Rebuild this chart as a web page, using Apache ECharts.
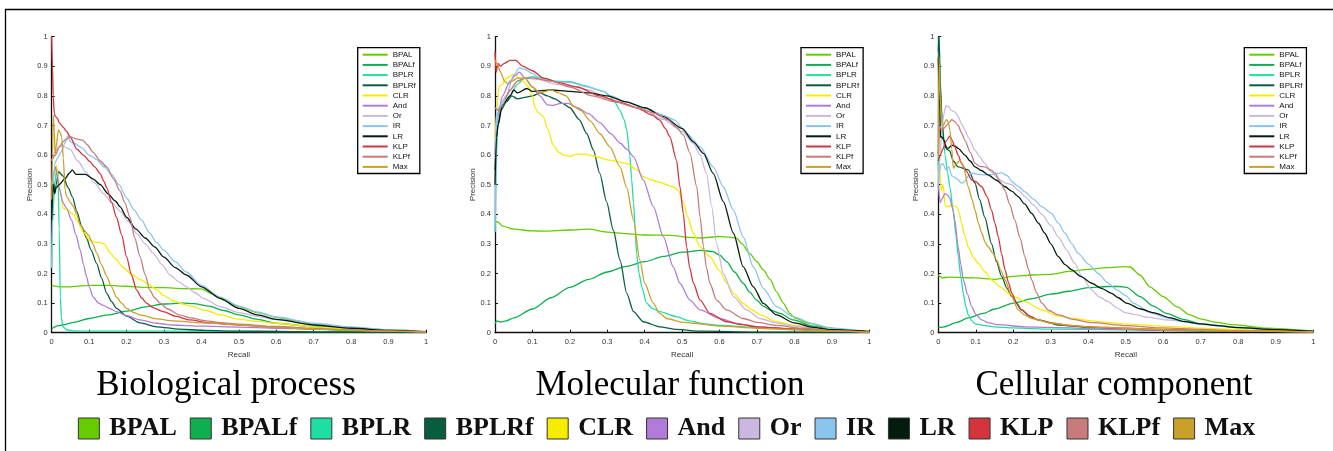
<!DOCTYPE html>
<html>
<head>
<meta charset="utf-8">
<script src="https://cdn.jsdelivr.net/npm/echarts@6/dist/echarts.min.js"></script>
<style>
html,body{margin:0;padding:0;background:#fff;}
#chart{width:1333px;height:451px;}
</style>
</head>
<body>
<div id="chart"></div>
<script>
// ---------- categories / labels ----------
const methods = ['BPAL','BPALf','BPLR','BPLRf','CLR','And','Or','IR','LR','KLP','KLPf','Max'];
const panelTitles = ['Biological process','Molecular function','Cellular component'];
const xAxisName = 'Recall';
const yAxisName = 'Precision';

// ---------- Biological process: [recall, precision] ----------
const bpBPAL = [[0,0.16],[0.005,0.158],[0.02,0.155],[0.05,0.155],[0.08,0.158],[0.1,0.16],[0.15,0.16],[0.2,0.157],[0.25,0.153],[0.3,0.152],[0.35,0.149],[0.4,0.148],[0.43,0.13],[0.46,0.11],[0.5,0.088],[0.55,0.068],[0.6,0.052],[0.65,0.04],[0.7,0.03],[0.8,0.018],[0.9,0.01],[1,0.003]];
const bpBPALf = [[0,0.01],[0.005,0.018],[0.015,0.023],[0.03,0.026],[0.06,0.035],[0.1,0.048],[0.15,0.06],[0.2,0.073],[0.25,0.087],[0.3,0.097],[0.35,0.1],[0.38,0.098],[0.42,0.09],[0.46,0.075],[0.5,0.06],[0.55,0.045],[0.6,0.032],[0.7,0.02],[0.8,0.012],[0.9,0.007],[1,0.003]];
const bpBPLR = [[0,0.22],[0.003,0.4],[0.008,0.5],[0.013,0.55],[0.017,0.52],[0.02,0.35],[0.023,0.12],[0.026,0.05],[0.03,0.02],[0.04,0.01],[0.06,0.006],[0.1,0.005],[0.3,0.005],[0.6,0.004],[1,0.003]];
const bpBPLRf = [[0,0.38],[0.004,0.52],[0.008,0.47],[0.012,0.5],[0.018,0.544],[0.03,0.53],[0.044,0.49],[0.055,0.46],[0.067,0.41],[0.08,0.36],[0.093,0.32],[0.105,0.28],[0.12,0.234],[0.133,0.185],[0.147,0.133],[0.16,0.105],[0.173,0.082],[0.2,0.056],[0.236,0.033],[0.28,0.02],[0.34,0.012],[0.41,0.008],[0.5,0.005],[0.7,0.003],[1,0.002]];
const bpCLR = [[0,0.5],[0.006,0.53],[0.013,0.565],[0.018,0.52],[0.025,0.46],[0.031,0.42],[0.04,0.415],[0.058,0.4],[0.07,0.375],[0.084,0.34],[0.102,0.313],[0.115,0.305],[0.129,0.305],[0.14,0.3],[0.156,0.27],[0.17,0.25],[0.19,0.222],[0.21,0.2],[0.236,0.18],[0.26,0.162],[0.28,0.145],[0.3,0.125],[0.324,0.108],[0.35,0.097],[0.37,0.09],[0.413,0.075],[0.45,0.06],[0.5,0.046],[0.55,0.038],[0.6,0.032],[0.7,0.02],[0.8,0.012],[0.9,0.007],[1,0.003]];
const bpAnd = [[0,0.5],[0.005,0.54],[0.01,0.56],[0.015,0.53],[0.02,0.49],[0.03,0.44],[0.04,0.42],[0.053,0.38],[0.065,0.33],[0.076,0.28],[0.085,0.23],[0.093,0.19],[0.1,0.155],[0.111,0.12],[0.125,0.1],[0.138,0.092],[0.155,0.082],[0.173,0.071],[0.2,0.058],[0.236,0.043],[0.28,0.032],[0.324,0.026],[0.4,0.022],[0.5,0.019],[0.6,0.015],[0.7,0.012],[0.8,0.009],[0.9,0.006],[1,0.004]];
const bpOr = [[0,0.58],[0.008,0.61],[0.02,0.63],[0.03,0.63],[0.049,0.62],[0.07,0.58],[0.093,0.54],[0.115,0.505],[0.138,0.47],[0.16,0.44],[0.183,0.41],[0.205,0.375],[0.227,0.335],[0.25,0.3],[0.27,0.27],[0.295,0.23],[0.316,0.195],[0.34,0.172],[0.36,0.155],[0.383,0.135],[0.405,0.116],[0.45,0.088],[0.5,0.068],[0.55,0.055],[0.6,0.044],[0.7,0.028],[0.8,0.016],[0.9,0.008],[1,0.003]];
const bpIR = [[0,0.22],[0.004,0.5],[0.008,0.57],[0.015,0.59],[0.025,0.61],[0.035,0.64],[0.043,0.665],[0.05,0.645],[0.06,0.64],[0.08,0.625],[0.1,0.6],[0.12,0.585],[0.14,0.56],[0.16,0.535],[0.18,0.5],[0.2,0.455],[0.22,0.415],[0.24,0.38],[0.26,0.34],[0.28,0.305],[0.3,0.278],[0.33,0.24],[0.36,0.205],[0.4,0.16],[0.45,0.12],[0.5,0.09],[0.55,0.07],[0.6,0.053],[0.7,0.032],[0.8,0.019],[0.9,0.01],[1,0.003]];
const bpLR = [[0,0.38],[0.004,0.5],[0.008,0.47],[0.012,0.49],[0.02,0.5],[0.035,0.52],[0.048,0.54],[0.055,0.55],[0.065,0.535],[0.08,0.535],[0.09,0.535],[0.11,0.52],[0.13,0.5],[0.15,0.47],[0.17,0.445],[0.183,0.425],[0.2,0.39],[0.225,0.35],[0.25,0.32],[0.275,0.29],[0.3,0.255],[0.33,0.22],[0.36,0.195],[0.4,0.155],[0.45,0.116],[0.5,0.082],[0.55,0.06],[0.6,0.045],[0.7,0.026],[0.8,0.015],[0.9,0.008],[1,0.003]];
const bpKLP = [[0,1.0],[0.002,0.9],[0.004,0.8],[0.007,0.74],[0.01,0.73],[0.015,0.725],[0.02,0.71],[0.03,0.695],[0.04,0.68],[0.05,0.66],[0.067,0.62],[0.085,0.6],[0.102,0.578],[0.115,0.56],[0.129,0.538],[0.14,0.51],[0.147,0.49],[0.16,0.44],[0.173,0.39],[0.187,0.33],[0.2,0.257],[0.213,0.195],[0.227,0.144],[0.24,0.118],[0.253,0.1],[0.27,0.085],[0.298,0.071],[0.33,0.056],[0.369,0.043],[0.42,0.033],[0.5,0.026],[0.6,0.019],[0.7,0.013],[0.8,0.008],[0.9,0.005],[1,0.003]];
const bpKLPf = [[0,0.58],[0.01,0.6],[0.02,0.625],[0.03,0.645],[0.04,0.655],[0.049,0.662],[0.065,0.655],[0.084,0.65],[0.095,0.635],[0.11,0.61],[0.13,0.58],[0.147,0.56],[0.165,0.52],[0.182,0.48],[0.195,0.44],[0.209,0.39],[0.222,0.32],[0.236,0.257],[0.25,0.195],[0.262,0.144],[0.275,0.118],[0.289,0.1],[0.31,0.08],[0.342,0.06],[0.37,0.05],[0.413,0.04],[0.45,0.034],[0.5,0.029],[0.6,0.021],[0.7,0.014],[0.8,0.009],[0.9,0.005],[1,0.003]];
const bpMax = [[0,0.45],[0.002,0.6],[0.004,0.735],[0.007,0.68],[0.009,0.6],[0.012,0.63],[0.018,0.685],[0.023,0.675],[0.027,0.66],[0.031,0.59],[0.036,0.48],[0.04,0.46],[0.05,0.44],[0.058,0.426],[0.067,0.4],[0.076,0.364],[0.088,0.345],[0.098,0.33],[0.11,0.3],[0.12,0.27],[0.133,0.23],[0.147,0.19],[0.16,0.155],[0.173,0.12],[0.187,0.1],[0.2,0.082],[0.22,0.068],[0.236,0.06],[0.28,0.047],[0.324,0.04],[0.4,0.033],[0.5,0.026],[0.6,0.018],[0.7,0.012],[0.8,0.008],[0.9,0.005],[1,0.002]];

// ---------- Molecular function ----------
const mfBPAL = [[0,0.37],[0.005,0.375],[0.01,0.372],[0.02,0.36],[0.05,0.35],[0.1,0.344],[0.13,0.343],[0.2,0.347],[0.25,0.35],[0.3,0.34],[0.35,0.335],[0.4,0.33],[0.47,0.329],[0.52,0.322],[0.55,0.32],[0.6,0.325],[0.63,0.322],[0.646,0.319],[0.66,0.3],[0.68,0.268],[0.7,0.24],[0.717,0.212],[0.735,0.18],[0.752,0.139],[0.77,0.1],[0.788,0.065],[0.8,0.05],[0.84,0.032],[0.886,0.018],[0.93,0.009],[1,0.003]];
const mfBPALf = [[0,0.03],[0.005,0.04],[0.015,0.036],[0.03,0.04],[0.05,0.05],[0.1,0.08],[0.15,0.118],[0.2,0.153],[0.25,0.18],[0.3,0.205],[0.35,0.224],[0.4,0.24],[0.45,0.258],[0.5,0.272],[0.55,0.278],[0.583,0.274],[0.6,0.262],[0.619,0.24],[0.64,0.205],[0.663,0.167],[0.68,0.138],[0.699,0.11],[0.717,0.09],[0.735,0.077],[0.761,0.065],[0.797,0.043],[0.85,0.022],[0.9,0.011],[1,0.003]];
const mfBPLR = [[0,0.34],[0.004,0.6],[0.008,0.73],[0.012,0.75],[0.02,0.76],[0.03,0.78],[0.04,0.8],[0.06,0.84],[0.08,0.86],[0.1,0.865],[0.13,0.86],[0.16,0.85],[0.2,0.848],[0.24,0.835],[0.27,0.822],[0.29,0.815],[0.307,0.8],[0.32,0.78],[0.334,0.75],[0.345,0.72],[0.352,0.685],[0.36,0.6],[0.365,0.52],[0.37,0.44],[0.375,0.34],[0.378,0.27],[0.385,0.2],[0.392,0.155],[0.405,0.1],[0.42,0.082],[0.44,0.071],[0.485,0.054],[0.52,0.04],[0.56,0.03],[0.6,0.025],[0.7,0.018],[0.8,0.012],[0.9,0.006],[1,0.002]];
const mfBPLRf = [[0,0.55],[0.004,0.66],[0.008,0.7],[0.015,0.75],[0.03,0.78],[0.045,0.8],[0.06,0.79],[0.08,0.795],[0.1,0.8],[0.12,0.81],[0.14,0.8],[0.16,0.79],[0.18,0.775],[0.2,0.76],[0.225,0.72],[0.245,0.673],[0.263,0.617],[0.28,0.538],[0.298,0.443],[0.316,0.347],[0.334,0.245],[0.352,0.133],[0.37,0.071],[0.396,0.037],[0.44,0.02],[0.485,0.011],[0.55,0.005],[0.7,0.002],[1,0.001]];
const mfCLR = [[0,0.65],[0.005,0.75],[0.01,0.83],[0.02,0.84],[0.03,0.86],[0.05,0.872],[0.065,0.86],[0.08,0.845],[0.09,0.83],[0.1,0.8],[0.107,0.76],[0.115,0.745],[0.129,0.73],[0.14,0.69],[0.156,0.634],[0.17,0.61],[0.185,0.6],[0.2,0.595],[0.218,0.603],[0.24,0.603],[0.263,0.597],[0.307,0.583],[0.352,0.572],[0.38,0.55],[0.396,0.527],[0.42,0.515],[0.44,0.508],[0.476,0.493],[0.49,0.48],[0.503,0.44],[0.515,0.39],[0.53,0.336],[0.548,0.29],[0.574,0.257],[0.6,0.21],[0.619,0.167],[0.64,0.13],[0.663,0.099],[0.69,0.075],[0.708,0.06],[0.752,0.037],[0.8,0.025],[0.85,0.016],[0.9,0.009],[1,0.003]];
const mfAnd = [[0,0.6],[0.004,0.7],[0.01,0.75],[0.02,0.8],[0.04,0.85],[0.055,0.87],[0.065,0.88],[0.08,0.86],[0.1,0.83],[0.12,0.8],[0.14,0.77],[0.155,0.768],[0.175,0.775],[0.195,0.775],[0.22,0.76],[0.25,0.74],[0.28,0.71],[0.31,0.672],[0.335,0.64],[0.352,0.62],[0.37,0.595],[0.396,0.516],[0.423,0.426],[0.45,0.324],[0.476,0.223],[0.494,0.167],[0.521,0.11],[0.548,0.077],[0.6,0.048],[0.65,0.03],[0.7,0.02],[0.8,0.012],[0.9,0.006],[1,0.002]];
const mfOr = [[0,0.4],[0.004,0.75],[0.015,0.77],[0.03,0.8],[0.06,0.85],[0.08,0.86],[0.12,0.855],[0.16,0.84],[0.2,0.835],[0.25,0.82],[0.3,0.792],[0.35,0.772],[0.4,0.75],[0.45,0.72],[0.5,0.68],[0.53,0.64],[0.548,0.6],[0.565,0.538],[0.579,0.426],[0.592,0.3],[0.61,0.2],[0.637,0.122],[0.672,0.077],[0.708,0.048],[0.75,0.033],[0.8,0.022],[0.85,0.015],[0.9,0.008],[1,0.003]];
const mfIR = [[0,0.34],[0.004,0.7],[0.01,0.76],[0.03,0.8],[0.05,0.87],[0.065,0.895],[0.08,0.89],[0.1,0.875],[0.12,0.86],[0.15,0.85],[0.2,0.845],[0.25,0.83],[0.29,0.815],[0.31,0.8],[0.35,0.78],[0.4,0.76],[0.45,0.735],[0.48,0.718],[0.512,0.673],[0.548,0.628],[0.583,0.56],[0.61,0.493],[0.637,0.414],[0.663,0.324],[0.69,0.223],[0.717,0.15],[0.752,0.088],[0.797,0.054],[0.85,0.03],[0.9,0.015],[1,0.003]];
const mfLR = [[0,0.5],[0.004,0.66],[0.008,0.7],[0.02,0.77],[0.04,0.8],[0.05,0.82],[0.06,0.81],[0.085,0.825],[0.1,0.815],[0.15,0.82],[0.2,0.815],[0.25,0.81],[0.3,0.8],[0.35,0.78],[0.4,0.76],[0.45,0.73],[0.5,0.69],[0.53,0.645],[0.557,0.606],[0.583,0.538],[0.61,0.443],[0.637,0.336],[0.663,0.223],[0.69,0.155],[0.717,0.099],[0.752,0.06],[0.8,0.033],[0.85,0.018],[0.9,0.01],[1,0.004]];
const mfKLP = [[0,0.95],[0.003,0.88],[0.008,0.91],[0.015,0.9],[0.025,0.91],[0.04,0.92],[0.055,0.92],[0.075,0.9],[0.1,0.885],[0.13,0.86],[0.17,0.845],[0.22,0.83],[0.28,0.8],[0.33,0.78],[0.38,0.76],[0.42,0.735],[0.44,0.718],[0.455,0.69],[0.467,0.662],[0.485,0.583],[0.494,0.493],[0.503,0.403],[0.512,0.29],[0.52,0.22],[0.53,0.167],[0.548,0.11],[0.574,0.065],[0.619,0.037],[0.66,0.027],[0.7,0.02],[0.8,0.012],[0.9,0.006],[1,0.002]];
const mfKLPf = [[0,0.76],[0.01,0.75],[0.02,0.77],[0.04,0.82],[0.06,0.85],[0.08,0.86],[0.1,0.86],[0.15,0.85],[0.2,0.83],[0.26,0.8],[0.32,0.78],[0.38,0.76],[0.43,0.74],[0.46,0.72],[0.485,0.695],[0.503,0.668],[0.521,0.606],[0.539,0.493],[0.548,0.39],[0.557,0.29],[0.565,0.22],[0.574,0.167],[0.592,0.11],[0.619,0.077],[0.663,0.048],[0.7,0.035],[0.75,0.025],[0.82,0.015],[0.9,0.007],[1,0.002]];
const mfMax = [[0,0.92],[0.005,0.91],[0.015,0.88],[0.025,0.85],[0.035,0.84],[0.045,0.85],[0.06,0.86],[0.08,0.86],[0.1,0.83],[0.12,0.81],[0.15,0.82],[0.17,0.81],[0.19,0.8],[0.21,0.765],[0.23,0.75],[0.255,0.715],[0.28,0.673],[0.307,0.628],[0.334,0.56],[0.352,0.49],[0.37,0.38],[0.387,0.245],[0.4,0.167],[0.423,0.099],[0.44,0.065],[0.459,0.048],[0.5,0.036],[0.53,0.032],[0.6,0.022],[0.7,0.015],[0.8,0.01],[0.9,0.005],[1,0.002]];

// ---------- Cellular component ----------
const ccBPAL = [[0,0.195],[0.005,0.19],[0.01,0.185],[0.03,0.188],[0.1,0.185],[0.15,0.18],[0.2,0.19],[0.25,0.195],[0.3,0.197],[0.35,0.207],[0.4,0.214],[0.45,0.22],[0.5,0.223],[0.511,0.222],[0.538,0.195],[0.564,0.155],[0.6,0.122],[0.636,0.088],[0.671,0.06],[0.698,0.047],[0.742,0.035],[0.787,0.027],[0.876,0.015],[1,0.005]];
const ccBPALf = [[0,0.02],[0.008,0.018],[0.015,0.02],[0.05,0.035],[0.08,0.05],[0.12,0.065],[0.15,0.08],[0.2,0.1],[0.25,0.115],[0.3,0.13],[0.35,0.14],[0.4,0.152],[0.45,0.156],[0.48,0.156],[0.502,0.153],[0.538,0.122],[0.573,0.09],[0.609,0.065],[0.653,0.045],[0.7,0.03],[0.8,0.018],[0.9,0.01],[1,0.004]];
const ccBPLR = [[0,0.55],[0.002,1.0],[0.006,0.8],[0.012,0.68],[0.018,0.6],[0.025,0.54],[0.031,0.49],[0.04,0.41],[0.047,0.33],[0.053,0.26],[0.06,0.19],[0.067,0.13],[0.073,0.09],[0.08,0.06],[0.09,0.04],[0.098,0.03],[0.124,0.024],[0.15,0.02],[0.2,0.016],[0.3,0.012],[0.5,0.01],[0.7,0.007],[1,0.004]];
const ccBPLRf = [[0,0.95],[0.002,1.0],[0.005,0.85],[0.01,0.72],[0.015,0.65],[0.022,0.62],[0.03,0.615],[0.04,0.58],[0.053,0.56],[0.08,0.55],[0.098,0.505],[0.11,0.45],[0.124,0.39],[0.142,0.3],[0.155,0.24],[0.169,0.19],[0.183,0.15],[0.196,0.122],[0.222,0.077],[0.245,0.055],[0.267,0.043],[0.32,0.026],[0.4,0.018],[0.5,0.012],[0.6,0.008],[0.8,0.005],[1,0.003]];
const ccCLR = [[0,0.5],[0.003,0.58],[0.006,0.5],[0.009,0.48],[0.013,0.5],[0.018,0.43],[0.022,0.425],[0.036,0.43],[0.049,0.425],[0.055,0.41],[0.062,0.37],[0.07,0.33],[0.08,0.29],[0.093,0.255],[0.107,0.234],[0.125,0.205],[0.142,0.178],[0.165,0.155],[0.187,0.133],[0.21,0.118],[0.231,0.105],[0.276,0.077],[0.32,0.056],[0.36,0.048],[0.409,0.04],[0.45,0.035],[0.5,0.029],[0.6,0.022],[0.7,0.015],[0.8,0.01],[0.9,0.006],[1,0.003]];
const ccAnd = [[0,0.5],[0.005,0.44],[0.009,0.45],[0.018,0.47],[0.025,0.465],[0.031,0.454],[0.038,0.42],[0.044,0.38],[0.053,0.29],[0.06,0.23],[0.067,0.178],[0.078,0.13],[0.089,0.088],[0.1,0.062],[0.116,0.043],[0.135,0.033],[0.16,0.027],[0.231,0.02],[0.3,0.018],[0.4,0.014],[0.5,0.011],[0.6,0.009],[0.8,0.006],[1,0.003]];
const ccOr = [[0,0.5],[0.005,0.6],[0.009,0.685],[0.015,0.74],[0.02,0.765],[0.026,0.765],[0.036,0.75],[0.045,0.745],[0.053,0.73],[0.062,0.705],[0.071,0.685],[0.08,0.66],[0.098,0.617],[0.11,0.595],[0.124,0.572],[0.14,0.545],[0.16,0.52],[0.18,0.505],[0.196,0.5],[0.215,0.48],[0.231,0.46],[0.255,0.43],[0.276,0.4],[0.3,0.362],[0.32,0.324],[0.342,0.28],[0.364,0.234],[0.385,0.185],[0.409,0.144],[0.43,0.12],[0.453,0.105],[0.475,0.085],[0.498,0.068],[0.52,0.062],[0.56,0.052],[0.609,0.043],[0.7,0.03],[0.8,0.018],[0.9,0.009],[1,0.003]];
const ccIR = [[0,0.5],[0.004,0.55],[0.008,0.57],[0.013,0.57],[0.02,0.55],[0.028,0.56],[0.036,0.53],[0.05,0.52],[0.062,0.505],[0.07,0.51],[0.08,0.53],[0.089,0.54],[0.105,0.535],[0.124,0.533],[0.145,0.535],[0.169,0.54],[0.185,0.53],[0.196,0.51],[0.213,0.495],[0.231,0.476],[0.255,0.45],[0.276,0.426],[0.302,0.403],[0.32,0.37],[0.338,0.336],[0.356,0.3],[0.373,0.268],[0.4,0.232],[0.427,0.2],[0.45,0.17],[0.476,0.145],[0.5,0.125],[0.52,0.1],[0.564,0.068],[0.609,0.05],[0.65,0.038],[0.7,0.028],[0.8,0.017],[0.9,0.009],[1,0.003]];
const ccLR = [[0,0.93],[0.003,0.8],[0.006,0.66],[0.009,0.662],[0.015,0.65],[0.022,0.625],[0.027,0.623],[0.036,0.634],[0.045,0.63],[0.053,0.623],[0.071,0.6],[0.085,0.58],[0.098,0.56],[0.115,0.548],[0.133,0.533],[0.155,0.515],[0.178,0.493],[0.196,0.478],[0.213,0.46],[0.23,0.435],[0.249,0.403],[0.267,0.37],[0.284,0.336],[0.3,0.3],[0.32,0.257],[0.338,0.23],[0.356,0.212],[0.38,0.19],[0.409,0.167],[0.435,0.15],[0.462,0.133],[0.48,0.118],[0.502,0.1],[0.54,0.08],[0.573,0.068],[0.62,0.05],[0.653,0.038],[0.7,0.03],[0.742,0.024],[0.8,0.017],[0.9,0.01],[1,0.004]];
const ccKLP = [[0,0.58],[0.005,0.6],[0.012,0.62],[0.022,0.65],[0.031,0.664],[0.037,0.65],[0.044,0.628],[0.053,0.6],[0.062,0.572],[0.075,0.545],[0.089,0.516],[0.1,0.51],[0.116,0.493],[0.13,0.46],[0.142,0.414],[0.151,0.37],[0.16,0.324],[0.169,0.265],[0.178,0.212],[0.187,0.17],[0.196,0.133],[0.209,0.1],[0.222,0.077],[0.245,0.055],[0.267,0.043],[0.3,0.033],[0.35,0.025],[0.4,0.02],[0.5,0.015],[0.6,0.011],[0.8,0.006],[1,0.003]];
const ccKLPf = [[0,0.6],[0.004,0.7],[0.009,0.685],[0.015,0.69],[0.022,0.7],[0.03,0.712],[0.036,0.72],[0.045,0.712],[0.053,0.7],[0.062,0.675],[0.071,0.65],[0.085,0.61],[0.098,0.572],[0.11,0.562],[0.124,0.56],[0.14,0.55],[0.151,0.54],[0.165,0.51],[0.178,0.48],[0.19,0.435],[0.204,0.38],[0.218,0.32],[0.231,0.257],[0.24,0.215],[0.249,0.178],[0.262,0.135],[0.276,0.1],[0.295,0.075],[0.32,0.06],[0.36,0.045],[0.409,0.034],[0.5,0.024],[0.6,0.016],[0.7,0.011],[0.8,0.007],[1,0.003]];
const ccMax = [[0,0.6],[0.002,0.93],[0.005,0.8],[0.009,0.72],[0.013,0.7],[0.022,0.72],[0.027,0.71],[0.031,0.685],[0.036,0.62],[0.04,0.555],[0.049,0.572],[0.058,0.583],[0.067,0.56],[0.08,0.493],[0.09,0.45],[0.098,0.414],[0.107,0.37],[0.116,0.336],[0.125,0.305],[0.133,0.29],[0.145,0.27],[0.156,0.245],[0.167,0.21],[0.178,0.178],[0.196,0.122],[0.213,0.077],[0.23,0.06],[0.249,0.048],[0.302,0.032],[0.35,0.025],[0.4,0.02],[0.5,0.015],[0.6,0.01],[0.8,0.006],[1,0.003]];

const panelData = [
  [bpBPAL,bpBPALf,bpBPLR,bpBPLRf,bpCLR,bpAnd,bpOr,bpIR,bpLR,bpKLP,bpKLPf,bpMax],
  [mfBPAL,mfBPALf,mfBPLR,mfBPLRf,mfCLR,mfAnd,mfOr,mfIR,mfLR,mfKLP,mfKLPf,mfMax],
  [ccBPAL,ccBPALf,ccBPLR,ccBPLRf,ccCLR,ccAnd,ccOr,ccIR,ccLR,ccKLP,ccKLPf,ccMax]
];

// ---------- styling ----------
const colors = ['#66cc00','#0fae4f','#1edfa3','#075e3f','#f6ec00','#b07cd8','#cbb8e0','#8cc4f0','#021c0e','#d3343d','#c77b7b','#c9a02a'];
const gridLefts = [51.7, 495, 938.3];
const gridWidths = [374.3, 374.3, 375];
const gridTop = 36.7, gridHeight = 296;
const legendLefts = [357.7, 801, 1244.3];
const titleCenters = [226, 670, 1114];

const chart = echarts.init(document.getElementById('chart'), null, {renderer:'canvas'});

const grids = [], xAxes = [], yAxes = [], series = [], legends = [], graphics = [];
const axisColor = '#111';
for (let p = 0; p < 3; p++) {
  grids.push({left: gridLefts[p], top: gridTop, width: gridWidths[p], height: gridHeight, containLabel:false});
  xAxes.push({
    type:'value', gridIndex:p, min:0, max:1, interval:0.1,
    axisLine:{show:true, onZero:false, lineStyle:{color:axisColor, width:1.3}},
    axisTick:{show:true, inside:true, length:3, lineStyle:{color:axisColor}},
    axisLabel:{fontSize:7.5, color:'#333', margin:5, fontFamily:'Liberation Sans'},
    splitLine:{show:false},
    name:xAxisName, nameLocation:'middle', nameGap:12,
    nameTextStyle:{fontSize:8, color:'#333', fontFamily:'Liberation Sans'}
  });
  yAxes.push({
    type:'value', gridIndex:p, min:0, max:1, interval:0.1,
    axisLine:{show:true, onZero:false, lineStyle:{color:axisColor, width:1.3}},
    axisTick:{show:true, inside:true, length:3, lineStyle:{color:axisColor}},
    axisLabel:{fontSize:7.5, color:'#333', margin:4, fontFamily:'Liberation Sans'},
    splitLine:{show:false},
    name:yAxisName, nameLocation:'middle', nameGap:17, nameRotate:90,
    nameTextStyle:{fontSize:8, color:'#333', fontFamily:'Liberation Sans'}
  });
  for (let s = 0; s < methods.length; s++) {
    series.push({
      type:'line', name:methods[s], xAxisIndex:p, yAxisIndex:p,
      data:panelData[p][s], symbol:'none', showSymbol:false,
      smooth:0.25, smoothMonotone:'x',
      color:colors[s],
      lineStyle:{width:1.3, color:colors[s]},
      itemStyle:{color:colors[s]},
      animation:false, z:2
    });
  }
  legends.push({
    data:methods, orient:'vertical', left:legendLefts[p], top:47.7,
    icon:'rect', itemWidth:25, itemHeight:2, itemGap:2.2,
    padding:[3,4,2.6,5], borderColor:'#000', borderWidth:1.3, backgroundColor:'#fff',
    itemStyle:{borderWidth:0},
    textStyle:{fontSize:8, color:'#111', fontFamily:'Liberation Sans'},
    selectedMode:false, z:10
  });
  graphics.push({
    type:'text', x:titleCenters[p], y:386, z:10,
    style:{text:panelTitles[p], fontSize:35, fontFamily:'Liberation Serif', fill:'#000', align:'center', verticalAlign:'middle'}
  });
}
legends.push({
  data:methods, orient:'horizontal', left:'center', top:415.5, padding:0,
  icon:'rect', itemWidth:21, itemHeight:21, itemGap:13,
  itemStyle:{borderColor:'#333', borderWidth:1},
  textStyle:{fontSize:26, fontWeight:'bold', color:'#111', fontFamily:'Liberation Serif', padding:[0,0,0,5]},
  selectedMode:false
});
graphics.push({type:'line', shape:{x1:5, y1:9.5, x2:1333, y2:9.5}, style:{stroke:'#000', lineWidth:1.3}});
graphics.push({type:'line', shape:{x1:5.5, y1:9, x2:5.5, y2:451}, style:{stroke:'#000', lineWidth:1.3}});

chart.setOption({
  animation:false,
  backgroundColor:'#fff',
  grid:grids, xAxis:xAxes, yAxis:yAxes,
  legend:legends, series:series, graphic:graphics
});
</script>
</body>
</html>
